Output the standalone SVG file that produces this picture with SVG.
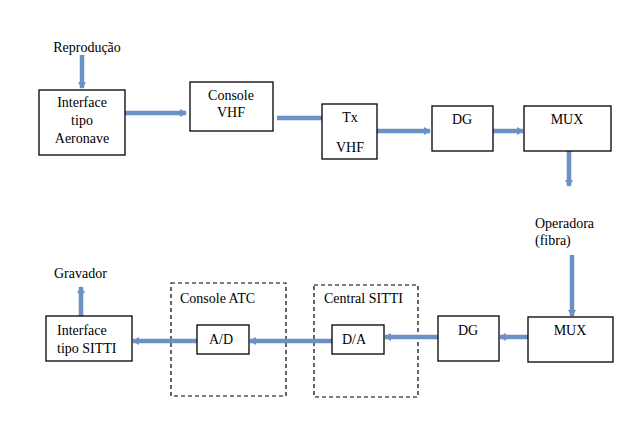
<svg xmlns="http://www.w3.org/2000/svg" width="641" height="438" viewBox="0 0 641 438">
<style>
.box{fill:#fff;stroke:#000;stroke-width:1.3}
.dash{fill:none;stroke:#000;stroke-width:1.2;stroke-dasharray:4,3}
.t{font-family:"Liberation Serif","Times New Roman",serif;font-size:14px;fill:#000}
.c{text-anchor:middle}
.w{fill:none;stroke:#6c91c4;stroke-width:4.5}
.a{marker-end:url(#ah)}
</style>
<defs>
<marker id="ah" markerUnits="userSpaceOnUse" markerWidth="10" markerHeight="10" refX="6" refY="5" orient="auto">
<path d="M0,1 L7,5 L0,9 Z" fill="#6c91c4"/>
</marker>
</defs>
<rect width="641" height="438" fill="#fff"/>
<g id="groups">
<g id="console-atc"><rect class="dash" x="171" y="283" width="115" height="113"/><text class="t" x="180" y="303">Console ATC</text></g>
<g id="central-sitti"><rect class="dash" x="314" y="285" width="104" height="112"/><text class="t" x="324" y="303">Central SITTI</text></g>
</g>
<g id="connectors">
<line class="w a" x1="82" y1="55" x2="82" y2="88"/>
<line class="w a" x1="125" y1="113" x2="186" y2="113"/>
<line class="w" x1="277" y1="118" x2="322" y2="118"/>
<line class="w a" x1="377" y1="131" x2="430" y2="131"/>
<line class="w a" x1="493" y1="131" x2="523" y2="131"/>
<line class="w a" x1="569" y1="151" x2="569" y2="186"/>
<line class="w a" x1="572" y1="255" x2="572" y2="316"/>
<line class="w a" x1="528" y1="337" x2="500" y2="337"/>
<line class="w a" x1="438" y1="337" x2="385" y2="337"/>
<line class="w a" x1="332" y1="341" x2="250" y2="341"/>
<line class="w a" x1="197" y1="341" x2="133" y2="341"/>
<line class="w a" x1="81" y1="316" x2="81" y2="287"/>
</g>
<g id="reproducao"><text class="t c" x="87" y="52">Reprodução</text></g>
<g id="interface-aeronave"><rect class="box" x="39" y="90" width="86" height="65"/><text class="t c" x="82" y="107">Interface</text><text class="t c" x="82" y="125">tipo</text><text class="t c" x="82" y="143">Aeronave</text></g>
<g id="console-vhf"><rect class="box" x="190" y="82" width="83" height="49"/><text class="t c" x="231" y="100">Console</text><text class="t c" x="231" y="117">VHF</text></g>
<g id="tx-vhf"><rect class="box" x="322" y="104" width="55" height="55"/><text class="t c" x="350" y="122">Tx</text><text class="t c" x="350" y="152">VHF</text></g>
<g id="dg-top"><rect class="box" x="432" y="106" width="61" height="45"/><text class="t c" x="462" y="124">DG</text></g>
<g id="mux-top"><rect class="box" x="524" y="106" width="87" height="45"/><text class="t c" x="567" y="124">MUX</text></g>
<g id="operadora"><text class="t" x="535" y="228">Operadora</text><text class="t" x="535" y="245">(fibra)</text></g>
<g id="mux-bottom"><rect class="box" x="528" y="317" width="85" height="45"/><text class="t c" x="570" y="335">MUX</text></g>
<g id="dg-bottom"><rect class="box" x="438" y="316" width="61" height="45"/><text class="t c" x="468" y="335">DG</text></g>
<g id="da"><rect class="box" x="332" y="325" width="52" height="29"/><text class="t c" x="354" y="344">D/A</text></g>
<g id="ad"><rect class="box" x="197" y="325" width="52" height="29"/><text class="t c" x="221" y="344">A/D</text></g>
<g id="interface-sitti"><rect class="box" x="46" y="316" width="86" height="45"/><text class="t" x="57" y="335">Interface</text><text class="t" x="57" y="353">tipo SITTI</text></g>
<g id="gravador"><text class="t" x="54" y="278">Gravador</text></g>
</svg>
